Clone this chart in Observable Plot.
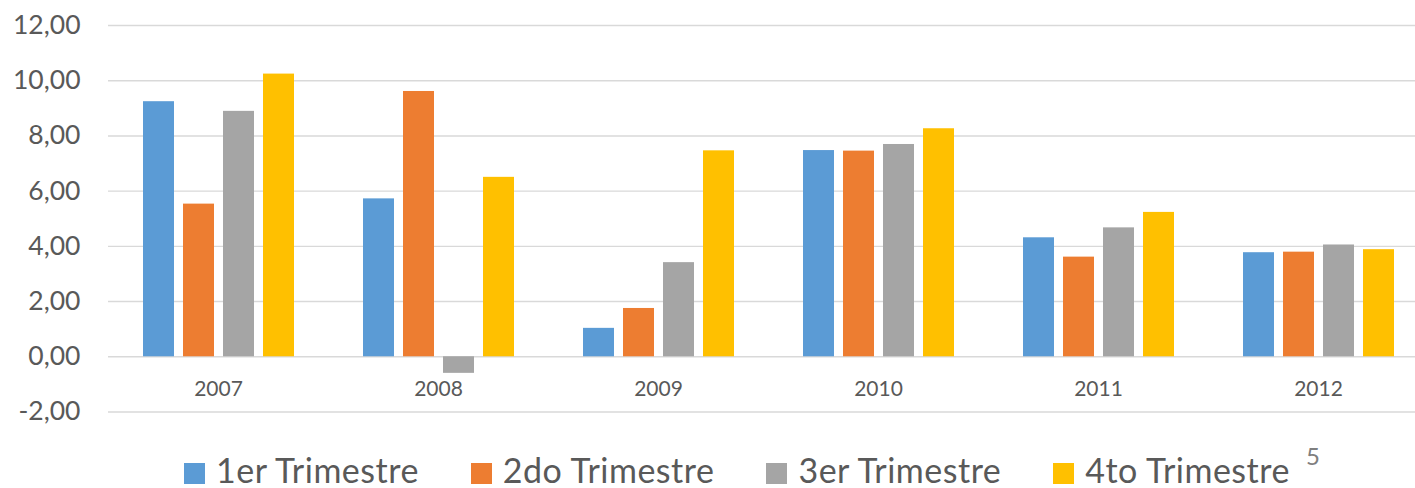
<!DOCTYPE html>
<html>
<head>
<meta charset="utf-8">
<script src="https://cdn.jsdelivr.net/npm/d3@7"></script>
<script src="https://cdn.jsdelivr.net/npm/@observablehq/plot@0.6"></script>
<style>
html, body { margin: 0; padding: 0; background: #fff; overflow: hidden; }
body { width: 1415px; height: 488px; font-family: Lato, "Open Sans", sans-serif; }
#chart svg { display: block; }
#legend { position: relative; width: 1415px; height: 58px; }
#legend .items { position: absolute; top: 22.8px; left: 184px; display: flex; align-items: flex-start; line-height: 34px; font-size: 34px; letter-spacing: 0.5px; color: #595959; white-space: nowrap; }
#legend .item { display: flex; align-items: flex-start; margin-right: 52px; }
#legend .sw { width: 21px; height: 21px; margin-top: 10px; margin-right: 11px; }
#legend .page { position: absolute; left: 1306px; top: 14px; font-size: 24px; line-height: 24px; color: #7f7f7f; }
</style>
</head>
<body>
<div id="chart"></div>
<div id="legend"></div>
<script>
const years = ["2007", "2008", "2009", "2010", "2011", "2012"];
const series = ["1er Trimestre", "2do Trimestre", "3er Trimestre", "4to Trimestre"];
const colors = ["#5b9bd5", "#ed7d31", "#a5a5a5", "#ffc000"];
const q1 = [9.24, 5.72, 1.03, 7.47, 4.31, 3.77];
const q2 = [5.53, 9.61, 1.75, 7.45, 3.61, 3.79];
const q3 = [8.89, -0.60, 3.41, 7.69, 4.67, 4.05];
const q4 = [10.24, 6.50, 7.46, 8.26, 5.23, 3.88];
const yTicks = [-2, 0, 2, 4, 6, 8, 10, 12];
const pageNumber = "5";

const seriesValues = [q1, q2, q3, q4];
const data = years.flatMap((yr, i) =>
  seriesValues.map((vals, j) => ({ year: yr, series: series[j], value: vals[i] }))
);

const fmt = d => d.toFixed(2).replace(".", ",");

const chart = Plot.plot({
  width: 1415,
  height: 430,
  marginLeft: 108,
  marginRight: -13,
  marginTop: 25,
  marginBottom: 18.5,
  style: { fontFamily: "Lato, 'Open Sans', sans-serif", background: "#fff" },
  fx: { domain: years, padding: 0, axis: null, label: null },
  x: { domain: series, paddingInner: 0.225, paddingOuter: 0.8625, axis: null, label: null },
  y: { domain: [-2, 12], axis: null, label: null },
  color: { domain: series, range: colors },
  marks: [
    Plot.gridY(yTicks, { stroke: "#d9d9d9", strokeOpacity: 1, strokeWidth: 1.4 }),
    Plot.barY(data, { fx: "year", x: "series", y: "value", fill: "series" }),
    Plot.axisY(yTicks, { tickSize: 0, tickPadding: 28, tickFormat: fmt, fontSize: 26.5, fill: "#595959", label: null }),
    Plot.text(years, { fx: d => d, text: d => d, y: 0, dy: 32, fontSize: 21, fill: "#595959" })
  ]
});
document.getElementById("chart").appendChild(chart);

const legend = document.getElementById("legend");
const items = document.createElement("div");
items.className = "items";
series.forEach((s, i) => {
  const it = document.createElement("div");
  it.className = "item";
  const sw = document.createElement("span");
  sw.className = "sw";
  sw.style.background = colors[i];
  const t = document.createElement("span");
  t.textContent = s;
  it.appendChild(sw);
  it.appendChild(t);
  items.appendChild(it);
});
legend.appendChild(items);
const page = document.createElement("div");
page.className = "page";
page.textContent = pageNumber;
legend.appendChild(page);
</script>
</body>
</html>
